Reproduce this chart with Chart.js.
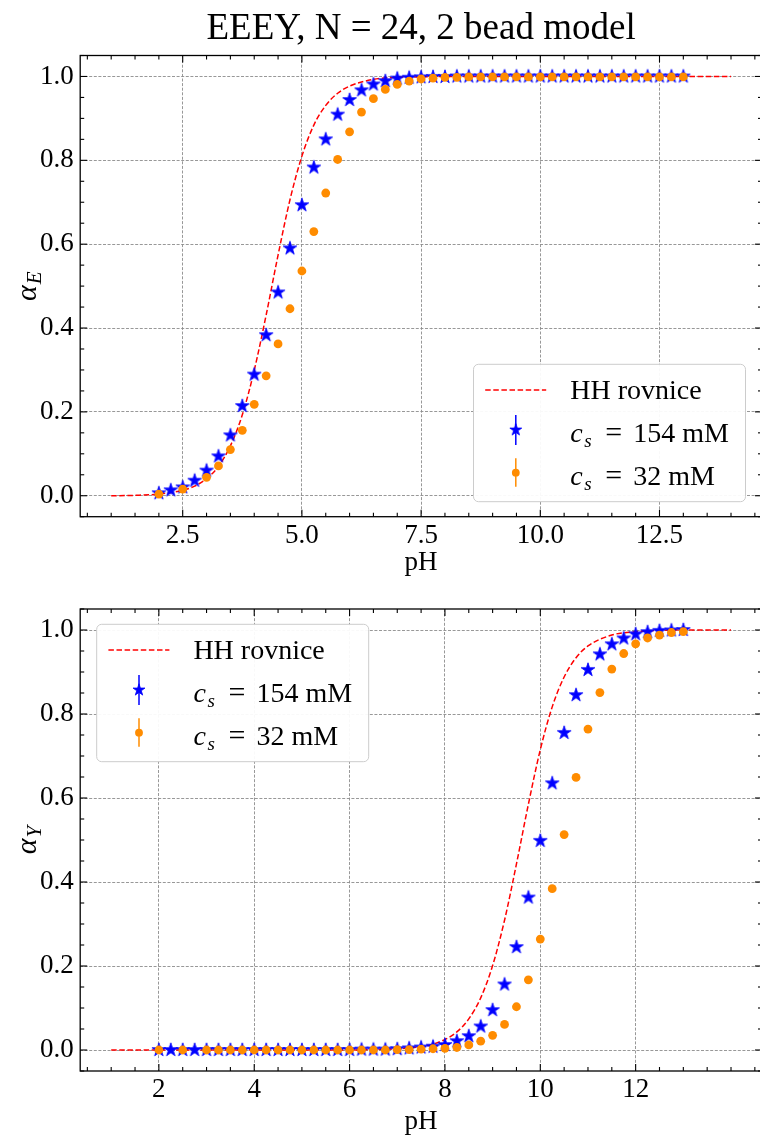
<!DOCTYPE html>
<html>
<head>
<meta charset="utf-8">
<script src="https://cdn.jsdelivr.net/npm/chart.js@4.4.0/dist/chart.umd.min.js"></script>
<style>
  html, body { margin: 0; padding: 0; background: #fff; overflow: hidden; }
  #fig { position: relative; width: 760px; height: 1138px; overflow: hidden; background: #fff; }
  #fig canvas { position: absolute; left: 0; }
</style>
</head>
<body>
<div id="fig">
  <canvas id="chartE" width="770" height="585" style="top:0;width:770px;height:585px"></canvas>
  <canvas id="chartY" width="770" height="553" style="top:585px;width:770px;height:553px"></canvas>
</div>
<script>
// ---- data ------------------------------------------------------------
// simulation pH grid for c_s = 154 mM
const pH154 = [2.0, 2.25, 2.5, 2.75, 3.0, 3.25, 3.5, 3.75, 4.0, 4.25, 4.5, 4.75, 5.0, 5.25, 5.5, 5.75,
  6.0, 6.25, 6.5, 6.75, 7.0, 7.25, 7.5, 7.75, 8.0, 8.25, 8.5, 8.75, 9.0, 9.25, 9.5, 9.75, 10.0,
  10.25, 10.5, 10.75, 11.0, 11.25, 11.5, 11.75, 12.0, 12.25, 12.5, 12.75, 13.0];
// simulation pH grid for c_s = 32 mM
const pH32 = [2.0, 2.5, 3.0, 3.25, 3.5, 3.75, 4.0, 4.25, 4.5, 4.75, 5.0, 5.25, 5.5, 5.75,
  6.0, 6.25, 6.5, 6.75, 7.0, 7.25, 7.5, 7.75, 8.0, 8.25, 8.5, 8.75, 9.0, 9.25, 9.5, 9.75, 10.0,
  10.25, 10.5, 10.75, 11.0, 11.25, 11.5, 11.75, 12.0, 12.25, 12.5, 12.75, 13.0];

// degree of ionization of E beads
const alphaE154 = [0.006, 0.013, 0.020, 0.036, 0.060, 0.094, 0.144, 0.214, 0.289, 0.383, 0.485, 0.590,
  0.693, 0.783, 0.850, 0.909, 0.944, 0.967, 0.981, 0.989, 0.995, 0.997, 0.998, 0.999, 0.999,
  1.000, 1.000, 1.000, 1.000, 1.000, 1.000, 1.000, 1.000, 1.000, 1.000, 1.000, 1.000, 1.000,
  1.000, 1.000, 1.000, 1.000, 1.000, 1.000, 1.000];
const alphaE32 = [0.004, 0.016, 0.044, 0.071, 0.110, 0.156, 0.218, 0.286, 0.362, 0.446, 0.536, 0.630,
  0.722, 0.802, 0.868, 0.915, 0.947, 0.969, 0.981, 0.989, 0.994, 0.996, 0.998,
  0.998, 0.999, 0.999, 0.999, 0.999, 0.999, 0.999, 0.999, 0.999, 0.999, 0.999, 0.999, 0.999,
  0.999, 0.999, 0.999, 0.999, 0.999, 0.999, 0.999];

// degree of ionization of Y beads
const alphaY154 = [0.000, 0.000, 0.000, 0.000, 0.000, 0.000, 0.000, 0.000, 0.000, 0.000, 0.000, 0.000,
  0.000, 0.000, 0.000, 0.000, 0.000, 0.001, 0.001, 0.001, 0.002, 0.004, 0.006, 0.008, 0.012,
  0.021, 0.033, 0.056, 0.095, 0.156, 0.245, 0.363, 0.498, 0.635, 0.755, 0.845, 0.905, 0.942,
  0.966, 0.980, 0.990, 0.995, 0.998, 0.999, 1.000];
const alphaY32 = [0.000, 0.000, 0.000, 0.000, 0.000, 0.000, 0.000, 0.000, 0.000, 0.000, 0.000, 0.000,
  0.000, 0.000, 0.000, 0.000, 0.000, 0.000, 0.001, 0.001, 0.002, 0.003, 0.004, 0.006, 0.012,
  0.021, 0.035, 0.061, 0.103, 0.167, 0.264, 0.384, 0.513, 0.649, 0.764, 0.851, 0.907, 0.944,
  0.967, 0.981, 0.988, 0.994, 0.996];

// Henderson-Hasselbalch reference curves
const hhPH_E = [1.0, 1.5, 2.0, 2.5, 2.75, 3.0, 3.25, 3.5, 3.75, 4.0, 4.25, 4.5, 4.75, 5.0, 5.25, 5.5,
  5.75, 6.0, 6.5, 7.0, 7.5, 8.0, 9.0, 10.0, 11.0, 12.0, 13.0, 14.0];
const hhE = [0.000, 0.001, 0.004, 0.013, 0.023, 0.041, 0.070, 0.119, 0.193, 0.299, 0.431, 0.574, 0.706,
  0.810, 0.884, 0.931, 0.960, 0.977, 0.993, 0.998, 0.999, 1.000, 1.000, 1.000, 1.000, 1.000, 1.000, 1.000];
const hhPH_Y = [1.0, 2.0, 3.0, 4.0, 5.0, 6.0, 6.5, 7.0, 7.5, 7.75, 8.0, 8.25, 8.5, 8.75, 9.0, 9.25,
  9.5, 9.75, 10.0, 10.25, 10.5, 10.75, 11.0, 11.5, 12.0, 12.5, 13.0, 14.0];
const hhY = [0.000, 0.000, 0.000, 0.000, 0.000, 0.000, 0.001, 0.003, 0.008, 0.014, 0.025, 0.043, 0.074,
  0.124, 0.201, 0.309, 0.443, 0.585, 0.715, 0.817, 0.888, 0.934, 0.962, 0.988, 0.996, 0.999, 1.000, 1.000];

// axis ticks
const xTicksE = [2.5, 5.0, 7.5, 10.0, 12.5];
const xTicksY = [2, 4, 6, 8, 10, 12];
const yTicks = [0.0, 0.2, 0.4, 0.6, 0.8, 1.0];

// labels
const titleE = 'EEEY, N = 24, 2 bead model';
const legendLine = 'HH rovnice';
const legendSalt = ['154 mM', '32 mM'];

// ---- styling ---------------------------------------------------------
const FONT = "'Liberation Serif', 'Times New Roman', serif";
const BLUE = '#0000ff', ORANGE = '#ff8c00', RED = '#ff0000';
const DASH = [5.5, 2.6];

function starSprite(r, color) {
  const s = 2 * Math.ceil(r + 1);
  const c = document.createElement('canvas');
  c.width = s; c.height = s;
  const g = c.getContext('2d');
  g.translate(s / 2, s / 2);
  g.beginPath();
  for (let i = 0; i < 10; i++) {
    const rad = i % 2 === 0 ? r : r * 0.382;
    const a = -Math.PI / 2 + i * Math.PI / 5;
    g.lineTo(rad * Math.cos(a), rad * Math.sin(a));
  }
  g.closePath();
  g.fillStyle = color; g.fill();
  g.lineWidth = 0.8; g.strokeStyle = color; g.stroke();
  return c;
}
const STAR = starSprite(7.2, BLUE);
const STAR_SMALL = starSprite(6.3, BLUE);

const pts = (xs, ys) => xs.map((x, i) => ({ x, y: ys[i] }));

// frame, inward ticks, axis label with subscript and the legend
const framePlugin = {
  id: 'frame',
  afterDraw(chart, args, o) {
    const { ctx, chartArea: a } = chart;
    const sx = chart.scales.x, sy = chart.scales.y;
    ctx.save();
    ctx.setLineDash([]);
    ctx.strokeStyle = '#000';
    ctx.lineWidth = 1.3;
    ctx.strokeRect(a.left, a.top, a.right - a.left, a.bottom - a.top);

    ctx.lineWidth = 1.1;
    const seg = (x1, y1, x2, y2) => { ctx.beginPath(); ctx.moveTo(x1, y1); ctx.lineTo(x2, y2); ctx.stroke(); };
    for (let k = Math.ceil(sx.min / 0.5); k * 0.5 <= sx.max + 1e-9; k++) {
      const v = k * 0.5;
      const p = sx.getPixelForValue(v);
      const L = o.xMajor.some(m => Math.abs(m - v) < 1e-6) ? 7 : 4;
      seg(p, a.bottom, p, a.bottom - L);
      seg(p, a.top, p, a.top + L);
    }
    for (let k = Math.ceil(sy.min / 0.05 - 1e-6); k * 0.05 <= sy.max + 1e-9; k++) {
      const p = sy.getPixelForValue(k * 0.05);
      const L = k % 4 === 0 ? 7 : 4;
      seg(a.left, p, a.left + L, p);
      seg(a.right, p, a.right - L, p);
    }

    // y label: alpha with subscript
    ctx.save();
    ctx.translate(o.yLabelX, (a.top + a.bottom) / 2);
    ctx.rotate(-Math.PI / 2);
    ctx.fillStyle = '#000';
    ctx.textBaseline = 'alphabetic';
    ctx.font = `italic 30px ${FONT}`;
    const w1 = ctx.measureText('\u03b1').width;
    ctx.font = `italic 21px ${FONT}`;
    const w2 = ctx.measureText(o.ySub).width;
    const x0 = -(w1 + 1 + w2) / 2;
    ctx.font = `italic 30px ${FONT}`;
    ctx.fillText('\u03b1', x0, 0);
    ctx.font = `italic 21px ${FONT}`;
    ctx.fillText(o.ySub, x0 + w1 + 1, 5);
    ctx.restore();

    // legend
    const W = 272, H = 137.4;
    const bx = o.legendCorner === 'lr' ? a.right - 16.5 - W : a.left + 16.5;
    const by = o.legendCorner === 'lr' ? a.bottom - 15 - H : a.top + 15.3;
    ctx.beginPath();
    ctx.roundRect(bx, by, W, H, 5);
    ctx.fillStyle = 'rgba(255,255,255,0.95)';
    ctx.fill();
    ctx.strokeStyle = '#cccccc';
    ctx.lineWidth = 1;
    ctx.stroke();

    ctx.strokeStyle = RED; ctx.lineWidth = 1.5; ctx.setLineDash(DASH);
    seg(bx + 11.7, by + 25.7, bx + 72.7, by + 25.7);
    ctx.setLineDash([]);

    const mx = bx + 42.3;
    ctx.strokeStyle = BLUE; ctx.lineWidth = 1.5;
    seg(mx, by + 50.7, mx, by + 80.7);
    ctx.drawImage(STAR_SMALL, mx - STAR_SMALL.width / 2, by + 65.7 - STAR_SMALL.height / 2);
    ctx.strokeStyle = ORANGE;
    seg(mx, by + 94, mx, by + 122.4);
    ctx.beginPath(); ctx.arc(mx, by + 108.4, 3.9, 0, Math.PI * 2);
    ctx.fillStyle = ORANGE; ctx.fill();

    const tx = bx + 96.7;
    ctx.fillStyle = '#000';
    ctx.textBaseline = 'alphabetic';
    ctx.font = `28px ${FONT}`;
    ctx.fillText(legendLine, tx, by + 35);
    [by + 77.4, by + 120.7].forEach((yb, i) => {
      ctx.font = `italic 28px ${FONT}`;
      ctx.fillText('c', tx, yb);
      ctx.font = `italic 19px ${FONT}`;
      ctx.fillText('s', tx + 14, yb + 5);
      ctx.font = `30px ${FONT}`;
      ctx.fillText('=', tx + 35, yb);
      ctx.font = `28px ${FONT}`;
      ctx.fillText(legendSalt[i], tx + 63, yb);
    });
    ctx.restore();
  }
};

function makeChart(id, cfg) {
  const tickFont = { family: FONT, size: 27, lineHeight: 1.2 };
  return new Chart(document.getElementById(id), {
    type: 'scatter',
    data: {
      datasets: [
        { label: 'HH', data: pts(cfg.hhX, cfg.hhY), showLine: true, pointRadius: 0,
          borderColor: RED, borderWidth: 1.5, borderDash: DASH, cubicInterpolationMode: 'monotone',
          fill: false, order: 2 },
        { label: '154', data: pts(pH154, cfg.y154), pointStyle: STAR, pointRadius: 7, order: 1 },
        { label: '32', data: pts(pH32, cfg.y32), pointStyle: 'circle', pointRadius: 4.4,
          backgroundColor: ORANGE, borderWidth: 0, order: 0 }
      ]
    },
    options: {
      responsive: false,
      animation: false,
      devicePixelRatio: 1,
      layout: { padding: { top: cfg.padTop, right: 6.2, left: 0, bottom: 0 } },
      plugins: {
        legend: { display: false },
        tooltip: { enabled: false },
        title: cfg.title ? {
          display: true, text: cfg.title, fullSize: false, color: '#000',
          font: { family: FONT, size: 37, weight: 'normal', lineHeight: 1.2 },
          padding: { top: 7, bottom: 4.1 }
        } : { display: false },
        frame: { xMajor: cfg.xTicks, ySub: cfg.ySub, yLabelX: 36, legendCorner: cfg.legendCorner }
      },
      scales: {
        x: {
          type: 'linear', min: 0.35, max: 14.65,
          afterBuildTicks: s => { s.ticks = cfg.xTicks.map(v => ({ value: v })); },
          afterFit: s => { s.height = cfg.xHeight; },
          ticks: { font: tickFont, color: '#000', padding: 3.2, maxRotation: 0, autoSkip: false,
                   callback: cfg.xFmt },
          grid: { color: '#8c8c8c', lineWidth: 0.9, drawTicks: false },
          border: { display: false, dash: [3, 1.6] },
          title: { display: true, text: 'pH', color: '#000',
                   font: { family: FONT, size: 27, lineHeight: 1.2 },
                   padding: { top: 0, bottom: cfg.xTitlePad } }
        },
        y: {
          type: 'linear', min: -0.05, max: 1.05,
          afterBuildTicks: s => { s.ticks = yTicks.map(v => ({ value: v })); },
          afterFit: s => { s.width = 80.2; },
          ticks: { font: tickFont, color: '#000', padding: 6.5, autoSkip: false,
                   callback: v => v.toFixed(1) },
          grid: { color: '#8c8c8c', lineWidth: 0.9, drawTicks: false },
          border: { display: false, dash: [3, 1.6] }
        }
      }
    },
    plugins: [framePlugin]
  });
}

makeChart('chartE', {
  hhX: hhPH_E, hhY: hhE, y154: alphaE154, y32: alphaE32,
  xTicks: xTicksE, xFmt: v => v.toFixed(1), ySub: 'E',
  title: titleE, padTop: 0, xHeight: 68.3, xTitlePad: 5.5, legendCorner: 'lr'
});
makeChart('chartY', {
  hhX: hhPH_Y, hhY: hhY, y154: alphaY154, y32: alphaY32,
  xTicks: xTicksY, xFmt: v => String(v), ySub: 'Y',
  title: null, padTop: 24, xHeight: 67, xTitlePad: 0, legendCorner: 'ul'
});
</script>
</body>
</html>
